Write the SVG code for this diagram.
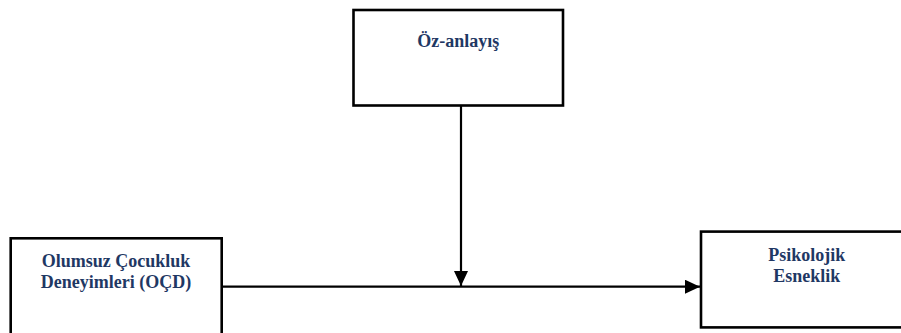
<svg xmlns="http://www.w3.org/2000/svg" width="901" height="333" viewBox="0 0 901 333">
<style>
.box{fill:#fff;stroke:#000;stroke-width:2.6}
.lbl{font-family:"Liberation Serif","Times New Roman",serif;font-weight:bold;font-size:18px;fill:#1F3864;text-anchor:middle}
.con{stroke:#000;stroke-width:2.2;fill:none}
</style>
<defs>
<marker id="arr" markerWidth="16" markerHeight="14" refX="15" refY="7" orient="auto" markerUnits="userSpaceOnUse">
<path d="M0,0 L15,7 L0,14 Z" fill="#000"/>
</marker>
</defs>
<rect width="901" height="333" fill="#fff"/>
<g id="node-oz">
<rect class="box" x="353.5" y="10" width="209.5" height="95.5"/>
<text class="lbl" x="458.3" y="47.3">Öz-anlayış</text>
</g>
<g id="node-ocd">
<rect class="box" x="10.7" y="238.3" width="211" height="100"/>
<text class="lbl" x="116" y="266.5">Olumsuz Çocukluk</text>
<text class="lbl" x="116" y="288">Deneyimleri (OÇD)</text>
</g>
<g id="node-psi">
<rect class="box" x="701" y="231.6" width="210" height="95.8"/>
<text class="lbl" x="806.7" y="260.5">Psikolojik</text>
<text class="lbl" x="806.7" y="281.5">Esneklik</text>
</g>
<g id="connectors">
<line class="con" x1="222" y1="286.7" x2="700" y2="286.7" marker-end="url(#arr)"/>
<line class="con" x1="461" y1="105.5" x2="461" y2="286" marker-end="url(#arr)"/>
</g>
</svg>
